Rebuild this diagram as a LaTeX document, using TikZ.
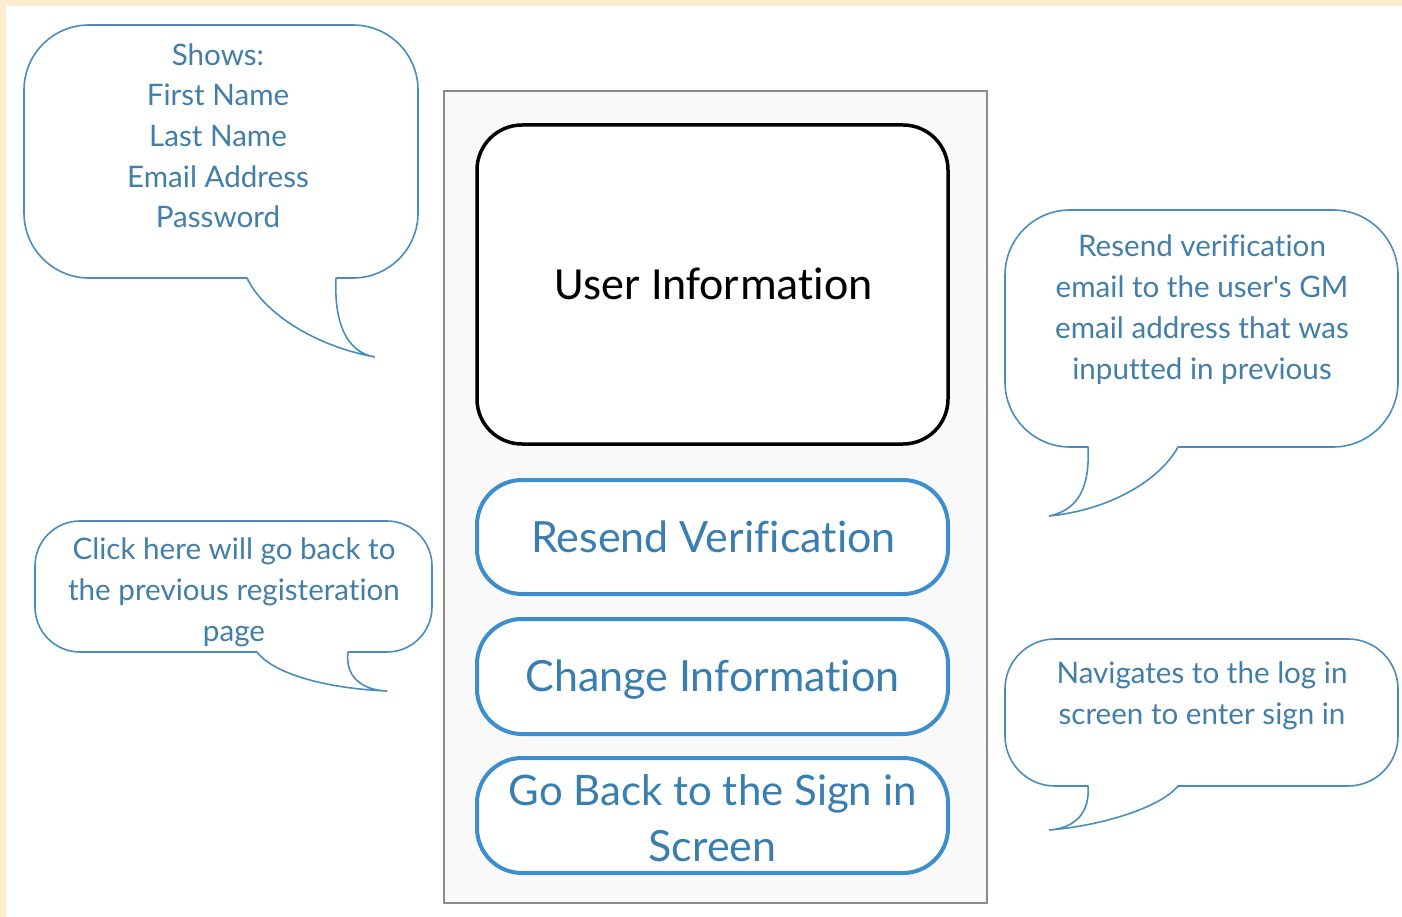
\documentclass[tikz,border=0pt]{standalone}
\usepackage{fontspec}
\newfontfamily\latofont[Ligatures=NoCommon]{Lato}
\newfontfamily\carlfont[Ligatures=NoCommon]{Carlito}
\definecolor{beige}{RGB}{252,236,208}
\definecolor{calloutline}{RGB}{74,140,190}
\definecolor{callouttext}{RGB}{66,126,168}
\definecolor{btnline}{RGB}{60,142,204}
\definecolor{btntext}{RGB}{56,126,176}
\definecolor{framefill}{RGB}{249,249,249}
\definecolor{frameline}{RGB}{140,140,140}
\tikzset{
  calloutbody/.style={draw=calloutline, line width=1.6pt, fill=white},
  tailfill/.style={fill=white, draw=none},
  tailline/.style={draw=calloutline, line width=1.6pt, line cap=round},
  ctext/.style={font=\latofont\fontsize{29.6}{35}\selectfont, text=callouttext, anchor=base, inner sep=0pt},
  btnbox/.style={draw=btnline, line width=4pt, fill=white, rounded corners=45pt},
  btext/.style={font=\latofont\fontsize{43}{50}\selectfont, text=btntext, anchor=base, inner sep=0pt},
}
\begin{document}
\begin{tikzpicture}[x=1pt, y=-1pt]
\useasboundingbox (0,0) rectangle (1402,917);
% background
\fill[white] (0,0) rectangle (1402,917);
\fill[beige] (0,0) rectangle (1402,6);
\fill[beige] (0,0) rectangle (6,917);

% phone frame
\draw[fill=framefill, draw=frameline, line width=1.5pt] (444,91) rectangle (987,903);
\node[draw=black, line width=3.5pt, fill=white, rounded corners=45pt, minimum width=471pt, minimum height=319pt, inner sep=0pt] (userbox) at (712.5,284.5) {};
\node[font=\carlfont\fontsize{46}{54}\selectfont, anchor=base, inner sep=0pt] (usertext) at (713.5,299) {User Information};

\node[btnbox, minimum width=471pt, minimum height=114pt, inner sep=0pt] (resend) at (712.5,537) {};
\node[btext] (resendt) at (713.5,552) {Resend Verification};
\node[btnbox, minimum width=471pt, minimum height=115pt, inner sep=0pt] (change) at (712.5,676.5) {};
\node[btext] (changet) at (712.5,691) {Change Information};
\node[btnbox, minimum width=471pt, minimum height=115pt, inner sep=0pt] (goback) at (712.5,815.5) {};
\node[btext, font=\latofont\fontsize{42}{50}\selectfont] (gobackt1) at (712.5,805) {Go Back to the Sign in};
\node[btext] (gobackt2) at (712.5,861) {Screen};

% callout 1
\draw[calloutbody, rounded corners=65pt] (24,25) rectangle (418,278);
\coordinate (c1L) at (247,278);
\coordinate (c1T) at (375,357);
\coordinate (c1R) at (336,278);
\fill[tailfill] (247,275.5) -- (c1L) .. controls (262,310) and (310,345) .. (c1T) .. controls (345,352) and (334,320) .. (c1R) -- (336,275.5) -- cycle;
\draw[tailline] (c1L) .. controls (262,310) and (310,345) .. (c1T) .. controls (345,352) and (334,320) .. (c1R);
\node[ctext] (c1a) at (218,66) {Shows:};
\node[ctext] (c1b) at (218,106) {First Name};
\node[ctext] (c1c) at (218,147) {Last Name};
\node[ctext] (c1d) at (218,188) {Email Address};
\node[ctext] (c1e) at (218,228) {Password};

% callout 2
\draw[calloutbody, rounded corners=45pt] (35,521) rectangle (432,652);
\coordinate (c2L) at (257,652);
\coordinate (c2T) at (387,691);
\coordinate (c2R) at (348,652);
\fill[tailfill] (257,649.5) -- (c2L) .. controls (272,672) and (320,688) .. (c2T) .. controls (360,690) and (345,675) .. (c2R) -- (348,649.5) -- cycle;
\draw[tailline] (c2L) .. controls (272,672) and (320,688) .. (c2T) .. controls (360,690) and (345,675) .. (c2R);
\node[ctext] (c2a) at (234,559) {Click here will go back to};
\node[ctext] (c2b) at (234,600) {the previous registeration};
\node[ctext] (c2c) at (234,641) {page};

% callout 3
\draw[calloutbody, rounded corners=65pt] (1005,210) rectangle (1398,447);
\coordinate (c3L) at (1088,447);
\coordinate (c3T) at (1049,516);
\coordinate (c3R) at (1178,447);
\fill[tailfill] (1088,444.5) -- (c3L) .. controls (1090,488) and (1078,510) .. (c3T) .. controls (1110,510) and (1160,480) .. (c3R) -- (1178,444.5) -- cycle;
\draw[tailline] (c3L) .. controls (1090,488) and (1078,510) .. (c3T) .. controls (1110,510) and (1160,480) .. (c3R);
\node[ctext] (c3a) at (1202,257) {Resend verification};
\node[ctext] (c3b) at (1202,298) {email to the user's GM};
\node[ctext] (c3c) at (1202,338) {email address that was};
\node[ctext] (c3d) at (1202,379) {inputted in previous};

% callout 4
\draw[calloutbody, rounded corners=50pt] (1005,639) rectangle (1398,786);
\coordinate (c4L) at (1088,786);
\coordinate (c4T) at (1049,830);
\coordinate (c4R) at (1178,786);
\fill[tailfill] (1088,783.5) -- (c4L) .. controls (1090,812) and (1076,828) .. (c4T) .. controls (1100,826) and (1160,808) .. (c4R) -- (1178,783.5) -- cycle;
\draw[tailline] (c4L) .. controls (1090,812) and (1076,828) .. (c4T) .. controls (1100,826) and (1160,808) .. (c4R);
\node[ctext] (c4a) at (1202,683) {Navigates to the log in};
\node[ctext] (c4b) at (1202,724) {screen to enter sign in};
\end{tikzpicture}
\end{document}
